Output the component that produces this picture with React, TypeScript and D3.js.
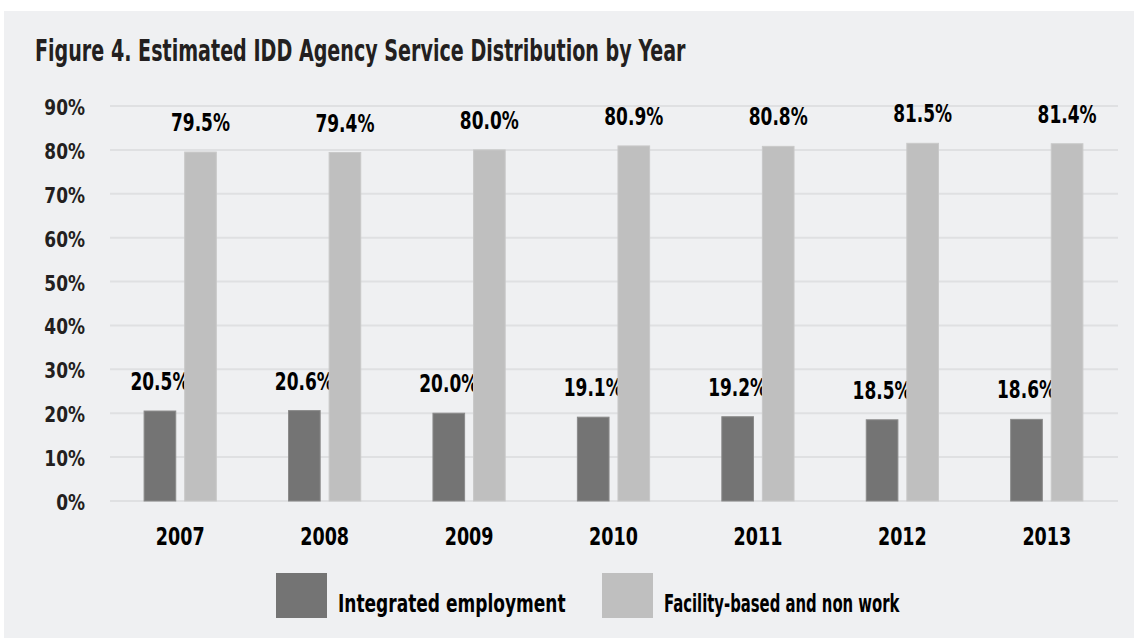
import * as d3 from 'd3';
import { useEffect, useRef } from 'react';

const years = ['2007', '2008', '2009', '2010', '2011', '2012', '2013'];
const seriesNames = ['Integrated employment', 'Facility-based and non work'];
const integrated = [20.5, 20.6, 20.0, 19.1, 19.2, 18.5, 18.6];
const facility = [79.5, 79.4, 80.0, 80.9, 80.8, 81.5, 81.4];
const yTicks = [0, 10, 20, 30, 40, 50, 60, 70, 80, 90];
const seriesColors = ['#747474', '#bfbfbf'];

// 좁은 글꼴이 없어서 가로로 눌러서 씀
const FONT = "'DejaVu Sans Condensed', 'DejaVu Sans', sans-serif";

const App = () => {
    const svgRef = useRef<SVGSVGElement | null>(null);

    useEffect(() => {
        const width = 1134;
        const height = 638;

        const svg = d3.select(svgRef.current);
        svg.selectAll('*').remove();
        svg.attr('width', width).attr('height', height);

        const squeeze = (sel: any, size: number, sx: number) =>
            sel
                .attr('font-family', FONT)
                .attr('font-weight', 'bold')
                .attr('font-size', size)
                .attr('transform', (_d: any, i: number, n: any) => {
                    const el = n[i] as SVGTextElement;
                    return `translate(${el.dataset.x},${el.dataset.y}) scale(${sx},1)`;
                });

        // 배경 패널
        svg.append('rect')
            .attr('x', 4)
            .attr('y', 11)
            .attr('width', width - 4)
            .attr('height', height - 11)
            .attr('fill', '#eff0f2');

        const title = svg.append('text')
            .attr('data-x', 35)
            .attr('data-y', 61)
            .attr('fill', '#231f20')
            .text('Figure 4. Estimated IDD Agency Service Distribution by Year');
        squeeze(title, 30, 0.708);

        const x = d3.scaleBand().domain(years).range([108, 1119]).padding(0);
        const y = d3.scaleLinear().domain([0, 90]).range([501, 106]);

        const inner = d3
            .scaleBand()
            .domain(seriesNames)
            .range([x.bandwidth() * 0.25, x.bandwidth() * 0.75])
            .paddingInner(0.22);

        // 그리드
        svg.append('g')
            .selectAll('line')
            .data(yTicks)
            .enter()
            .append('line')
            .attr('x1', 110)
            .attr('x2', 1118)
            .attr('y1', (d) => y(d))
            .attr('y2', (d) => y(d))
            .attr('stroke', '#dfe0e2')
            .attr('stroke-width', 2);

        // Y축 라벨
        const ticks = svg.append('g')
            .selectAll('text')
            .data(yTicks)
            .enter()
            .append('text')
            .attr('data-x', 85)
            .attr('data-y', (d) => y(d) + 9)
            .attr('text-anchor', 'end')
            .attr('fill', '#231f20')
            .text((d) => `${d}%`);
        squeeze(ticks, 21, 0.9);

        const rows = years.map((yr, i) => ({ year: yr, values: [integrated[i], facility[i]] }));

        const groups = svg.append('g')
            .selectAll('g')
            .data(rows)
            .enter()
            .append('g')
            .attr('transform', (d) => `translate(${x(d.year)},0)`);

        const cells = groups
            .selectAll('g')
            .data((d) => d.values.map((v, k) => ({ key: seriesNames[k], value: v, k })))
            .enter()
            .append('g');

        cells.append('rect')
            .attr('x', (d) => inner(d.key)!)
            .attr('y', (d) => y(d.value))
            .attr('width', inner.bandwidth())
            .attr('height', (d) => y(0) - y(d.value))
            .attr('fill', (d) => seriesColors[d.k])
            .attr('stroke', (d) => (d.k === 0 ? '#8a8a8a' : '#c9c9c9'))
            .attr('stroke-width', 1);

        const values = cells.append('text')
            .attr('data-x', (d) => inner(d.key)! + inner.bandwidth() / 2)
            .attr('data-y', (d) => y(d.value) - 21)
            .attr('text-anchor', 'middle')
            .attr('fill', '#000')
            .text((d) => `${d.value.toFixed(1)}%`);
        squeeze(values, 25, 0.756);

        // X축 라벨
        const yearLabels = svg.append('g')
            .selectAll('text')
            .data(years)
            .enter()
            .append('text')
            .attr('data-x', (d) => x(d)! + x.bandwidth() / 2)
            .attr('data-y', 545)
            .attr('text-anchor', 'middle')
            .attr('fill', '#000')
            .text((d) => d);
        squeeze(yearLabels, 25, 0.78);

        // 범례
        const legendX = [276, 602];
        const legendSqueeze = [0.757, 0.66];
        seriesNames.forEach((name, i) => {
            const row = svg.append('g').attr('transform', `translate(${legendX[i]}, 573)`);
            row.append('rect').attr('width', 51).attr('height', 45).attr('fill', seriesColors[i]);
            const label = row.append('text')
                .attr('data-x', 62)
                .attr('data-y', 39)
                .attr('fill', '#000')
                .text(name);
            squeeze(label, 25, legendSqueeze[i]);
        });
    }, []);

    return <svg ref={svgRef} style={{ position: 'absolute', left: 0, top: 0 }} />;
};

export default App;
